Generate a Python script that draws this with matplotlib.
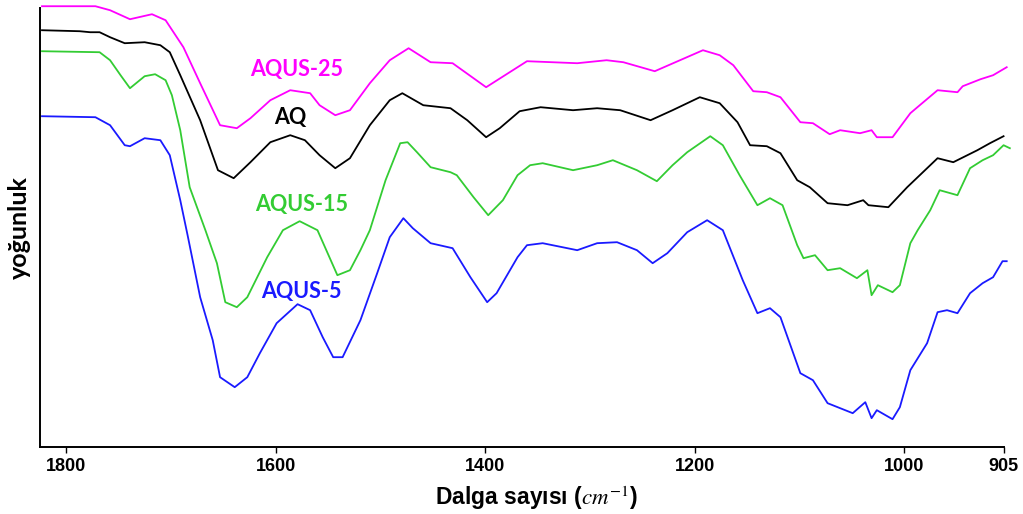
import matplotlib.pyplot as plt

plt.rcParams['mathtext.fontset'] = 'stix'

# wavenumber (cm-1) and intensity (arbitrary units)
aqus25_w = [1823, 1772, 1758, 1739, 1718, 1705, 1688, 1672, 1653, 1637, 1624, 1605, 1586, 1567,
            1558, 1543, 1529, 1510, 1491, 1473, 1452, 1431, 1399, 1360, 1312, 1284, 1268, 1238,
            1192, 1176, 1163, 1144, 1131, 1118, 1099, 1087, 1071, 1061, 1042, 1031, 1026, 1011,
            994, 985, 968, 949, 944, 927, 915, 902]
aqus25_i = [441, 441, 437, 428, 433, 427, 400, 364, 322, 319, 329, 347, 357, 354,
            342, 332, 337, 364, 387, 399, 385, 384, 360, 386, 384, 387, 385, 376,
            397, 392, 382, 356, 355, 350, 325, 324, 313, 317, 314, 317, 310, 310,
            334, 342, 357, 355, 361, 368, 372, 380]

aq_w = [1823, 1787, 1777, 1768, 1758, 1744, 1725, 1710, 1701, 1691, 1672, 1655, 1640, 1624,
        1605, 1586, 1572, 1558, 1543, 1529, 1510, 1491, 1479, 1459, 1433, 1417, 1399, 1386,
        1367, 1347, 1316, 1293, 1271, 1242, 1221, 1195, 1176, 1159, 1147, 1131, 1118, 1102,
        1090, 1073, 1054, 1039, 1034, 1015, 997, 968, 953, 930, 918, 905]
aq_i = [417, 416, 415, 415, 410, 404, 405, 402, 395, 372, 327, 277, 269, 285,
        305, 312, 307, 292, 279, 289, 322, 347, 354, 342, 339, 327, 310, 319,
        336, 340, 337, 339, 337, 327, 337, 350, 344, 325, 302, 301, 294, 267,
        260, 244, 242, 247, 242, 240, 260, 289, 285, 297, 304, 311]

aqus15_w = [1823, 1768, 1758, 1748, 1739, 1725, 1715, 1705, 1699, 1691, 1682, 1667, 1656, 1648,
            1637, 1627, 1608, 1593, 1577, 1560, 1541, 1529, 1519, 1510, 1495, 1481, 1474, 1465,
            1452, 1433, 1427, 1411, 1397, 1383, 1369, 1357, 1345, 1316, 1293, 1278, 1255, 1236,
            1221, 1207, 1185, 1173, 1157, 1140, 1128, 1116, 1102, 1096, 1085, 1073, 1061, 1045,
            1035, 1031, 1025, 1011, 1004, 994, 987, 975, 966, 949, 937, 925, 915, 905, 899]
aqus15_i = [396, 395, 387, 372, 359, 371, 373, 367, 352, 317, 260, 217, 184, 145,
            140, 150, 190, 217, 226, 217, 172, 177, 197, 217, 267, 304, 305, 295,
            280, 275, 272, 250, 232, 247, 272, 282, 284, 277, 282, 287, 277, 266,
            282, 295, 311, 302, 272, 242, 249, 242, 202, 189, 192, 177, 179, 169,
            177, 152, 162, 155, 162, 204, 217, 237, 257, 252, 279, 287, 292, 302, 299]

aqus5_w = [1823, 1772, 1758, 1744, 1739, 1725, 1710, 1701, 1691, 1684, 1672, 1660, 1653, 1646,
           1639, 1627, 1615, 1599, 1579, 1567, 1555, 1545, 1536, 1519, 1503, 1491, 1478, 1469,
           1452, 1431, 1414, 1398, 1389, 1369, 1360, 1345, 1312, 1293, 1274, 1255, 1240, 1226,
           1207, 1188, 1173, 1154, 1140, 1128, 1118, 1099, 1087, 1073, 1061, 1049, 1037, 1031,
           1026, 1011, 1004, 994, 978, 968, 959, 949, 937, 925, 915, 906, 902]
aqus5_i = [331, 330, 322, 302, 301, 309, 307, 292, 247, 212, 150, 107, 70, 65,
           60, 70, 94, 124, 143, 137, 110, 90, 90, 127, 174, 210, 229, 219,
           204, 199, 170, 145, 154, 190, 202, 204, 197, 204, 205, 197, 184, 194,
           215, 227, 217, 167, 134, 139, 130, 74, 67, 44, 39, 34, 45, 29,
           37, 28, 40, 77, 104, 135, 137, 134, 154, 164, 170, 186, 186]

series = [
    ("AQUS-25", aqus25_w, aqus25_i, "#ff00ff", (1580, 378)),
    ("AQ", aq_w, aq_i, "black", (1586, 330)),
    ("AQUS-15", aqus15_w, aqus15_i, "#33cc33", (1575, 243)),
    ("AQUS-5", aqus5_w, aqus5_i, "#1a1aff", (1575, 156)),
]

fig = plt.figure(figsize=(10.23, 5.14), dpi=100)
ax = fig.add_axes([0.039, 0.130, 0.942, 0.854])

for name, w, inten, color, pos in series:
    ax.plot(w, inten, color=color, lw=1.3, clip_on=False, solid_joinstyle='round')
    ax.text(pos[0], pos[1], name, color=color, fontsize=15.5, fontweight='bold',
            family='Lato', ha='center', va='center')

ax.set_xlim(1825, 905)
ax.set_ylim(0, 439)
ax.set_xticks([1800, 1600, 1400, 1200, 1000, 905])
ax.set_yticks([])
for lab in ax.get_xticklabels():
    lab.set_fontweight('bold')
    lab.set_family('Liberation Sans')
ax.tick_params(axis='x', labelsize=13, length=4.5, width=1, pad=3)
ax.spines['top'].set_visible(False)
ax.spines['right'].set_visible(False)
ax.spines['left'].set_linewidth(1.4)
ax.spines['bottom'].set_linewidth(1.4)

ax.set_xlabel("Dalga sayısı ($cm^{-1}$)", fontsize=16.5, fontweight='bold',
              family='Liberation Sans')
ax.xaxis.set_label_coords(0.515, -0.084)
ax.set_ylabel("yoğunluk", fontsize=18, fontweight='bold', family='Lato')
ax.yaxis.set_label_coords(-0.009, 0.5)

fig.savefig("out.png", dpi=100)
